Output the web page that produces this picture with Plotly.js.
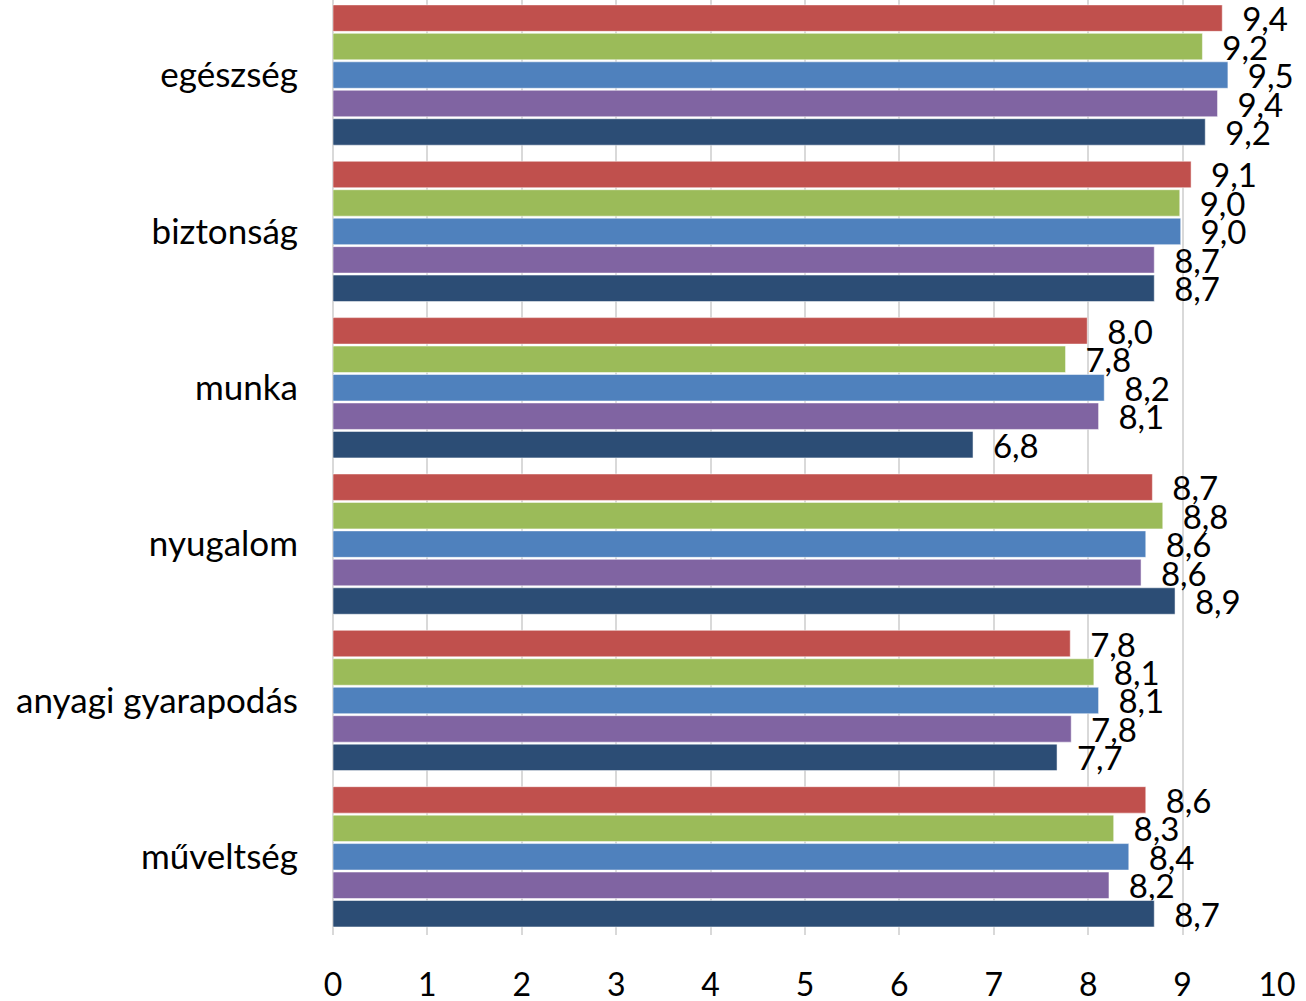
<!DOCTYPE html>
<html>
<head>
<meta charset="utf-8">
<script src="https://cdn.plot.ly/plotly-3.0.1.min.js"></script>
<style>html,body{margin:0;padding:0;background:#fff;}#chart{width:1306px;height:1001px;}</style>
</head>
<body>
<div id="chart"></div>
<script>
const categories = ["egészség", "biztonság", "munka", "nyugalom", "anyagi gyarapodás", "műveltség"];
const seriesRed    = [9.42, 9.09, 7.99, 8.68, 7.81, 8.61];
const seriesGreen  = [9.21, 8.97, 7.76, 8.79, 8.06, 8.27];
const seriesBlue   = [9.48, 8.98, 8.17, 8.61, 8.11, 8.43];
const seriesPurple = [9.37, 8.70, 8.11, 8.56, 7.82, 8.22];
const seriesNavy   = [9.24, 8.70, 6.78, 8.92, 7.67, 8.70];
const seriesColors = ["#C0504D", "#9BBB59", "#4F81BD", "#8064A2", "#2C4D75"];
const seriesList = [seriesRed, seriesGreen, seriesBlue, seriesPurple, seriesNavy];

const FONT = "Lato, 'Open Sans', sans-serif";
const traces = seriesList.map((vals, i) => ({
  type: "bar",
  orientation: "h",
  y: categories,
  x: vals,
  marker: {color: seriesColors[i], line: {color: "rgba(255,255,255,0.5)", width: 1}},
  texttemplate: "\u00a0\u00a0%{x:.1f}",
  textposition: "outside",
  textfont: {family: FONT, size: 33, color: "#000"},
  constraintext: "none",
  cliponaxis: false,
  hoverinfo: "none",
  showlegend: false
}));

const layout = {
  width: 1306, height: 1001,
  margin: {l: 333, r: 29, t: 0, b: 66},
  barmode: "group",
  bargap: 0.09,
  bargroupgap: 0.07,
  separators: ", ",
  paper_bgcolor: "#fff",
  plot_bgcolor: "#fff",
  font: {family: FONT, size: 32, color: "#000"},
  xaxis: {
    range: [0, 10], dtick: 1, tick0: 0,
    showgrid: true, gridcolor: "#d9d9d9", gridwidth: 2,
    zeroline: true, zerolinecolor: "#d9d9d9", zerolinewidth: 2,
    showline: false, ticks: "",
    ticklabelstandoff: 28,
    tickfont: {family: FONT, size: 32, color: "#000"},
    fixedrange: true
  },
  yaxis: {
    range: [5.50, -0.48],
    showgrid: false, zeroline: false, showline: false, ticks: "",
    ticklabelstandoff: 34,
    tickfont: {family: FONT, size: 35, color: "#000"},
    fixedrange: true
  }
};

Plotly.newPlot("chart", traces, layout, {displayModeBar: false, staticPlot: true});
</script>
</body>
</html>
